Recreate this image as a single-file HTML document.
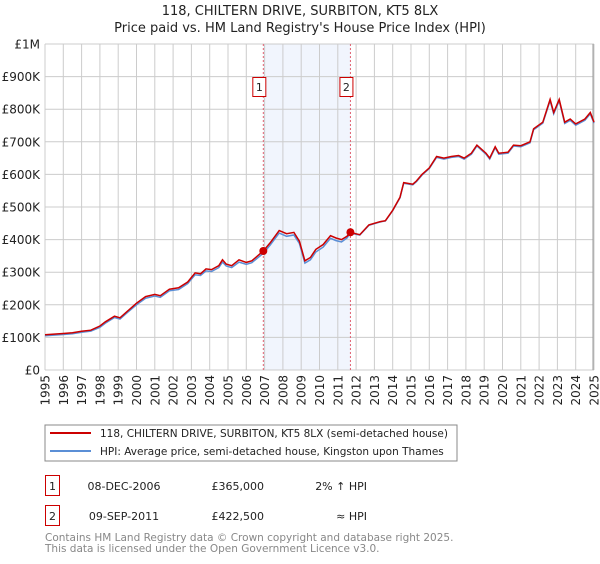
<!DOCTYPE html>
<html><head><meta charset="utf-8"><style>
body{margin:0;background:#fff;font-family:"DejaVu Sans","Liberation Sans",sans-serif;}
svg text{font-family:"DejaVu Sans","Liberation Sans",sans-serif;}
</style></head><body>
<svg id="chart" width="600" height="560" xmlns="http://www.w3.org/2000/svg">
<text x="300" y="15" text-anchor="middle" font-size="13" fill="#222">118, CHILTERN DRIVE, SURBITON, KT5 8LX</text>
<text x="300" y="32" text-anchor="middle" font-size="13" fill="#222">Price paid vs. HM Land Registry's House Price Index (HPI)</text>
<g id="grid"></g>
<g id="plot"></g>
<g id="axes"></g>
<rect x="45" y="425" width="412" height="36" fill="#fff" stroke="#888"/>
<line x1="50" y1="433" x2="91" y2="433" stroke="#cc0000" stroke-width="2"/>
<text x="100" y="437" font-size="10.5" fill="#222">118, CHILTERN DRIVE, SURBITON, KT5 8LX (semi-detached house)</text>
<line x1="50" y1="451" x2="91" y2="451" stroke="#5b8fd6" stroke-width="2"/>
<text x="100" y="455" font-size="10.5" fill="#222">HPI: Average price, semi-detached house, Kingston upon Thames</text>
<g>
<rect x="45.5" y="475.5" width="14" height="20" fill="#fff" stroke="#cc0000"/>
<text x="52.5" y="490" font-size="11" text-anchor="middle" fill="#222">1</text>
<text x="124" y="490" font-size="11" text-anchor="middle" fill="#222">08-DEC-2006</text>
<text x="264" y="490" font-size="11" text-anchor="end" fill="#222">£365,000</text>
<text x="367" y="490" font-size="11" text-anchor="end" fill="#222">2% ↑ HPI</text>
</g>
<g>
<rect x="45.5" y="505.5" width="14" height="20" fill="#fff" stroke="#cc0000"/>
<text x="52.5" y="520" font-size="11" text-anchor="middle" fill="#222">2</text>
<text x="124" y="520" font-size="11" text-anchor="middle" fill="#222">09-SEP-2011</text>
<text x="264" y="520" font-size="11" text-anchor="end" fill="#222">£422,500</text>
<text x="367" y="520" font-size="11" text-anchor="end" fill="#222">≈ HPI</text>
</g>
<text x="45" y="541" font-size="10.5" fill="#888">Contains HM Land Registry data © Crown copyright and database right 2025.</text>
<text x="45" y="552" font-size="10.5" fill="#888">This data is licensed under the Open Government Licence v3.0.</text>
</svg>
<script>
const yearTicks=[1995,1996,1997,1998,1999,2000,2001,2002,2003,2004,2005,2006,2007,2008,2009,2010,2011,2012,2013,2014,2015,2016,2017,2018,2019,2020,2021,2022,2023,2024,2025];
const valueTicks=[0,100000,200000,300000,400000,500000,600000,700000,800000,900000,1000000];
const valueTickLabels=["£0","£100K","£200K","£300K","£400K","£500K","£600K","£700K","£800K","£900K","£1M"];
const dates=[1995,1995.5,1996,1996.5,1997,1997.5,1998,1998.3,1998.8,1999.1,1999.5,2000,2000.5,2001,2001.3,2001.8,2002.3,2002.8,2003.2,2003.5,2003.8,2004.1,2004.5,2004.7,2004.9,2005.2,2005.6,2006,2006.3,2006.93,2007.3,2007.8,2008.2,2008.6,2008.9,2009.2,2009.5,2009.8,2010.2,2010.6,2010.9,2011.2,2011.5,2011.69,2012.2,2012.7,2013.3,2013.6,2014,2014.4,2014.6,2015.1,2015.3,2015.6,2016,2016.4,2016.8,2017.2,2017.6,2017.9,2018.3,2018.6,2019.1,2019.3,2019.6,2019.8,2020.3,2020.6,2021,2021.5,2021.7,2022.2,2022.6,2022.8,2023.1,2023.4,2023.7,2024,2024.5,2024.8,2025];
const priceSeries=[108,110,112,114,119,122,135,148,165,160,180,205,225,232,228,248,252,270,298,295,310,308,320,338,325,320,338,330,335,365,390,428,418,422,395,335,345,370,385,412,405,400,410,422,415,445,455,458,490,530,575,570,580,600,620,655,650,655,658,650,665,690,665,650,685,665,668,690,688,700,740,760,830,790,830,760,770,755,770,790,760];
const hpiSeries=[105,107,109,111,116,119,131,144,161,156,176,200,220,227,223,243,247,265,292,290,304,302,314,331,319,314,331,324,329,358,383,420,410,414,388,328,338,362,377,404,397,393,405,420,414,444,454,457,489,528,573,568,578,598,618,652,647,652,655,647,662,687,662,647,682,662,665,687,685,697,737,757,826,786,826,756,766,751,766,786,757];
const sales=[[2006.93,365000,"1"],[2011.69,422500,"2"]];
const X0=45,X1=594,Y0=370,Y1=44;
const xs=d=>X0+(d-1995)/30*(X1-X0);
const ys=v=>Y0-v/1000000*(Y0-Y1);
const NS="http://www.w3.org/2000/svg";
function mk(tag,attrs,parent){const e=document.createElementNS(NS,tag);for(const k in attrs)e.setAttribute(k,attrs[k]);parent.appendChild(e);return e;}
const grid=document.getElementById('grid'),plot=document.getElementById('plot'),axes=document.getElementById('axes');
const shade=mk('rect',{x:xs(sales[0][0]),y:Y1,width:xs(sales[1][0])-xs(sales[0][0]),height:Y0-Y1,fill:'#eef3fd',opacity:0.8},grid);


yearTicks.forEach(y=>{
 const l=mk('line',{x1:xs(y),x2:xs(y),y1:Y1,y2:Y0,stroke:'#cccccc','stroke-width':1},grid);
 
 
 const t=mk('text',{x:0,y:0,'font-size':12,fill:'#222','text-anchor':'end',transform:`translate(${xs(y)+4.5},${Y0+5}) rotate(-90)`},axes);
 t.textContent=y;
 
 
});
valueTicks.forEach((v,i)=>{
 const l=mk('line',{x1:X0,x2:X1,y1:ys(v),y2:ys(v),stroke:'#cccccc','stroke-width':1},grid);
 
 
 const t=mk('text',{x:40,y:ys(v)+4.5,'font-size':12,fill:'#222','text-anchor':'end'},axes);
 t.textContent=valueTickLabels[i];
 
 
});
const edge=mk('line',{x1:X1-1,x2:X1-1,y1:Y1,y2:Y0,stroke:'#999','stroke-width':1},grid);


sales.forEach(s=>{
 const l=mk('line',{x1:xs(s[0]),x2:xs(s[0]),y1:Y1,y2:Y0,stroke:'#e06070','stroke-width':1,'stroke-dasharray':'2,2'},plot);
 
 
});
const toPts=arr=>arr.map((v,i)=>xs(dates[i]).toFixed(1)+','+ys(v*1000).toFixed(1)).join(' ');
const hpi=mk('polyline',{points:toPts(hpiSeries),fill:'none',stroke:'#5b8fd6','stroke-width':1.5},plot);


const pr=mk('polyline',{points:toPts(priceSeries),fill:'none',stroke:'#cc0000','stroke-width':1.5},plot);


sales.forEach(s=>{
 const c=mk('circle',{cx:xs(s[0]),cy:ys(s[1]),r:4,fill:'#cc0000'},plot);
 
 
 const g=mk('g',{},plot);
 
 
 mk('rect',{x:xs(s[0])-10.5,y:77.5,width:13,height:19,fill:'#fff',stroke:'#cc0000'},g);
 const t=mk('text',{x:xs(s[0])-4,y:91,'font-size':11,'text-anchor':'middle',fill:'#222'},g);
 t.textContent=s[2];
});
</script>
</body></html>
